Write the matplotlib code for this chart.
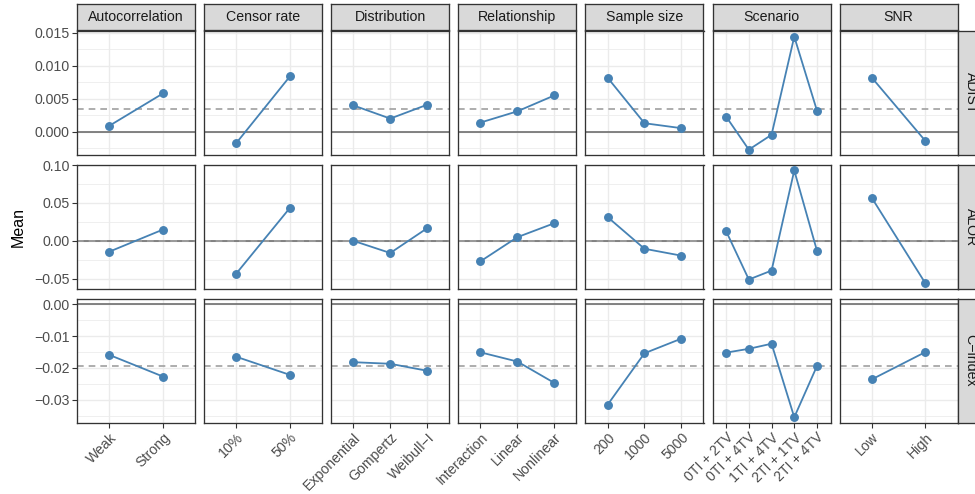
import numpy as np
import matplotlib.pyplot as plt
from matplotlib.ticker import MultipleLocator, FuncFormatter, FixedLocator

plt.rcParams['font.family'] = ['Liberation Sans', 'DejaVu Sans']

# facets
factors = ["Autocorrelation", "Censor rate", "Distribution", "Relationship",
           "Sample size", "Scenario", "SNR"]
factor_levels = [
    ["Weak", "Strong"],
    ["10%", "50%"],
    ["Exponential", "Gompertz", "Weibull\u2212I"],
    ["Interaction", "Linear", "Nonlinear"],
    ["200", "1000", "5000"],
    ["0TI + 2TV", "0TI + 4TV", "1TI + 4TV", "2TI + 1TV", "2TI + 4TV"],
    ["Low", "High"],
]
metrics = ["ADIST", "ALOR", "C\u2212index"]

# mean per level, one list per metric (same order as factors)
adist = [
    [0.0009, 0.0058],
    [-0.0017, 0.0084],
    [0.0040, 0.0020, 0.0041],
    [0.0014, 0.0031, 0.0055],
    [0.0082, 0.0013, 0.00055],
    [0.0023, -0.0027, -0.00045, 0.0144, 0.0032],
    [0.0082, -0.0014],
]
alor = [
    [-0.0144, 0.0148],
    [-0.0432, 0.0436],
    [0.0000, -0.0161, 0.0166],
    [-0.0271, 0.0048, 0.0232],
    [0.0314, -0.0105, -0.0196],
    [0.0127, -0.0511, -0.0393, 0.0929, -0.0131],
    [0.0567, -0.0563],
]
cindex = [
    [-0.0159, -0.0227],
    [-0.0165, -0.0222],
    [-0.0182, -0.0187, -0.0209],
    [-0.0151, -0.0180, -0.0247],
    [-0.0316, -0.0154, -0.0108],
    [-0.0152, -0.0140, -0.0124, -0.0355, -0.0194],
    [-0.0236, -0.0150],
]
overall_mean = [0.0034, 0.0002, -0.0194]
metric_values = [adist, alor, cindex]

y_major = [0.005, 0.05, 0.01]
y_decimals = [3, 2, 2]

W, H = 975, 494
fig = plt.figure(figsize=(W / 100, H / 100), dpi=100)


def px_axes(x0, y0, x1, y1):
    return fig.add_axes([x0 / W, 1 - y1 / H, (x1 - x0) / W, (y1 - y0) / H])


left, top = 77, 31
col_w, col_gap = 118.1, 9
row_h, row_gap = 124.3, 9.5
line_col = '#4682B4'
border = '#333333'
fs = 10.2

for r, metric in enumerate(metrics):
    vals_row = metric_values[r]
    allv = np.concatenate([np.array(v) for v in vals_row] + [[0.0, overall_mean[r]]])
    lo, hi = allv.min(), allv.max()
    pad = (hi - lo) * 0.05
    y0 = top + r * (row_h + row_gap)
    for c, fac in enumerate(factors):
        x0 = left + c * (col_w + col_gap)
        ax = px_axes(x0, y0, x0 + col_w, y0 + row_h)
        levels = factor_levels[c]
        xs = np.arange(1, len(levels) + 1)
        ax.axhline(0, color='#6E6E6E', lw=1.2, zorder=2)
        ax.axhline(overall_mean[r], color='#A0A0A0', lw=1.2, ls=(0, (4, 3)), zorder=2)
        ax.plot(xs, vals_row[c], color=line_col, lw=1.3, marker='o', ms=5.4, zorder=3)
        ax.set_xlim(0.4, len(levels) + 0.6)
        ax.set_ylim(lo - pad, hi + pad)
        ax.set_axisbelow(True)
        ax.yaxis.set_major_locator(MultipleLocator(y_major[r]))
        ax.yaxis.set_minor_locator(MultipleLocator(y_major[r] / 2))
        ax.xaxis.set_major_locator(FixedLocator(xs))
        ax.grid(which='major', color='#EBEBEB', lw=1.0)
        ax.grid(which='minor', axis='y', color='#EBEBEB', lw=0.55)
        for s in ax.spines.values():
            s.set_color(border)
            s.set_linewidth(0.95)
        ax.tick_params(which='minor', length=0)
        ax.tick_params(which='major', length=3.4, width=0.8, color=border,
                       labelcolor='#4D4D4D', labelsize=fs, pad=2.0)
        if c == 0:
            d = y_decimals[r]
            ax.yaxis.set_major_formatter(
                FuncFormatter(lambda v, p, d=d: f"{v:.{d}f}".replace('-', '\u2212')
                              if abs(v) > 1e-12 else f"{0:.{d}f}"))
        else:
            ax.tick_params(axis='y', left=False, labelleft=False)
        if r == len(metrics) - 1:
            ax.set_xticks(xs)
            ax.set_xticklabels(levels, rotation=45, ha='right', va='top',
                               rotation_mode='anchor')
        else:
            ax.tick_params(axis='x', bottom=False, labelbottom=False)

        # top strips
        if r == 0:
            sx = px_axes(x0, 4, x0 + col_w, 30)
            sx.set_facecolor('#D9D9D9')
            sx.set_xticks([])
            sx.set_yticks([])
            for s in sx.spines.values():
                s.set_color(border)
                s.set_linewidth(0.95)
            sx.text(0.5, 0.5, fac, ha='center', va='center', fontsize=fs,
                    color='#1A1A1A', transform=sx.transAxes)

    # right strip
    sx = px_axes(left + 7 * col_w + 6 * col_gap, y0, left + 7 * col_w + 6 * col_gap + 26, y0 + row_h)
    sx.set_facecolor('#D9D9D9')
    sx.set_xticks([])
    sx.set_yticks([])
    for s in sx.spines.values():
        s.set_color(border)
        s.set_linewidth(0.95)
    sx.text(0.5, 0.5, metric, ha='center', va='center', fontsize=fs, rotation=-90,
            color='#1A1A1A', transform=sx.transAxes)

fig.text(18 / W, 1 - 227 / H, "Mean", rotation=90, ha='center', va='center',
         fontsize=11.5, color='black')

fig.savefig('out.png', dpi=100)
